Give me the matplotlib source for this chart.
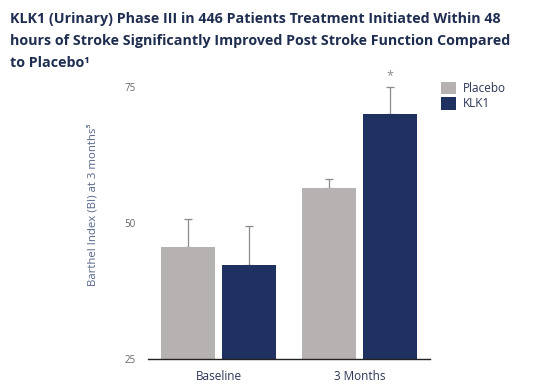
import matplotlib.pyplot as plt
import numpy as np

plt.rcParams['font.family'] = ['Open Sans', 'DejaVu Sans']

groups = ['Baseline', '3 Months']
placebo = [45.6, 56.4]
klk1 = [42.3, 70.0]
placebo_err = [5.1, 1.7]
klk1_err = [7.1, 5.0]

navy = '#1e3160'
grey = '#b6b2b1'
text_col = '#2b3556'

fig = plt.figure(figsize=(5.51, 3.89), dpi=100)
ax = fig.add_axes([0.2686, 0.0771, 0.5118, 0.7404])

x = np.arange(len(groups))
w = 0.383
off = 0.213
ax.bar(x - off, placebo, w, color=grey, label='Placebo', zorder=2)
ax.bar(x + off, klk1, w, color=navy, label='KLK1', zorder=2)
ax.errorbar(x - off, placebo, yerr=[np.zeros(2), placebo_err], fmt='none',
            ecolor='#8a8a8a', elinewidth=0.9, capsize=3, capthick=0.9, zorder=1)
ax.errorbar(x + off, klk1, yerr=[np.zeros(2), klk1_err], fmt='none',
            ecolor='#8a8a8a', elinewidth=0.9, capsize=3, capthick=0.9, zorder=1)
ax.text(1 + off, klk1[1] + klk1_err[1] + 1.0, '*', ha='center', va='bottom',
        color='#8a8a8a', fontsize=9)

ax.set_xlim(-0.5, 1.5)
ax.set_ylim(25, 78)
ax.set_yticks([25, 50, 75])
ax.set_xticks(x)
ax.set_xticklabels(groups, color=text_col, fontsize=8.5)
ax.tick_params(axis='y', length=0, labelsize=7, labelcolor='#666666', pad=9)
ax.tick_params(axis='x', length=0, pad=8)
for s in ['top', 'right', 'left']:
    ax.spines[s].set_visible(False)
ax.spines['bottom'].set_color('#222222')
ax.spines['bottom'].set_linewidth(1.0)

fig.text(0.169, 0.474, 'Barthel Index (BI) at 3 months³', rotation=90,
         ha='center', va='center', color='#55648a', fontsize=8.2)

ax.legend(loc='upper left', bbox_to_anchor=(1.0, 1.0), frameon=False,
          fontsize=8.5, labelcolor=text_col, handlelength=1.3, handleheight=1.3,
          handletextpad=0.6, labelspacing=0.15)

fig.text(0.018, 0.97, 'KLK1 (Urinary) Phase III in 446 Patients Treatment Initiated Within 48\n'
         'hours of Stroke Significantly Improved Post Stroke Function Compared\n'
         'to Placebo¹', ha='left', va='top', fontsize=10.3,
         fontweight='bold', color='#1f2d50', linespacing=1.75)

fig.savefig('out.png', dpi=100)
